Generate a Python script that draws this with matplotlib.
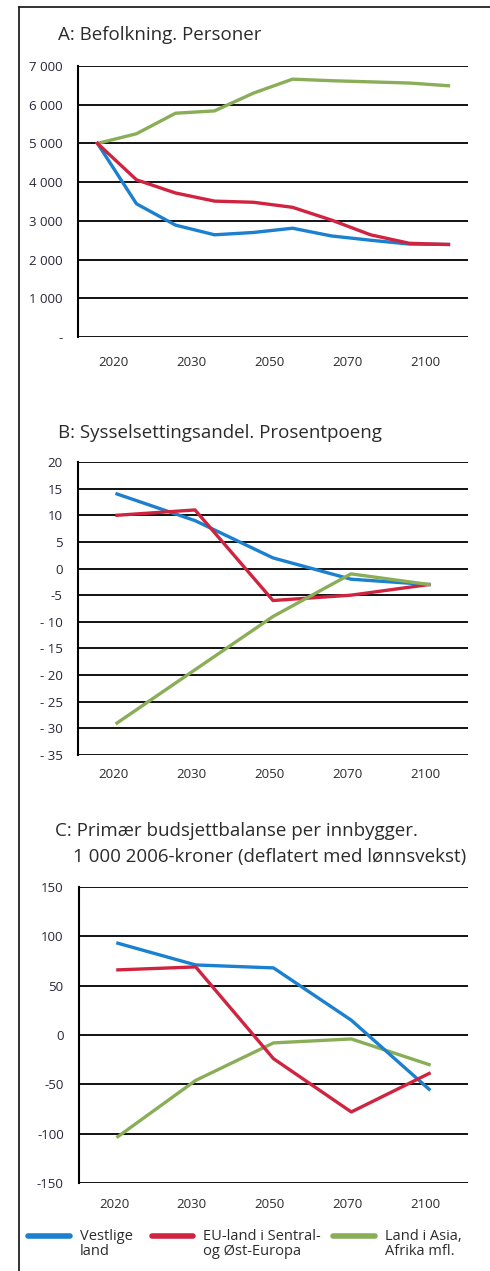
import matplotlib.pyplot as plt
from matplotlib.lines import Line2D

plt.rcParams['font.family'] = ['Open Sans', 'DejaVu Sans']

# Panel A: Befolkning (10 points, every second labelled)
a_vestlige = [5000, 3440, 2890, 2640, 2700, 2810, 2610, 2500, 2400, 2390]
a_eu = [5000, 4060, 3720, 3510, 3480, 3350, 3020, 2640, 2420, 2390]
a_asia = [5000, 5250, 5780, 5840, 6300, 6660, 6620, 6590, 6560, 6490]

# Panel B: Sysselsettingsandel
b_vestlige = [14, 9, 2, -2, -3]
b_eu = [10, 11, -6, -5, -3]
b_asia = [-29, -19, -9, -1, -3]

# Panel C: Primær budsjettbalanse
c_vestlige = [93, 71, 68, 15, -55]
c_eu = [66, 69, -24, -78, -39]
c_asia = [-103, -46, -8, -4, -30]

years = ['2020', '2030', '2050', '2070', '2100']
a_yticks = list(range(0, 7001, 1000))
a_ylabels = ['-', '1 000', '2 000', '3 000', '4 000', '5 000', '6 000', '7 000']
b_yticks = list(range(-35, 21, 5))
b_ylabels = ['- ' + str(-v) if v <= -10 else str(v) for v in b_yticks]
c_yticks = list(range(-150, 151, 50))

blue = '#1a80cf'
red = '#d0233f'
green = '#8aae58'
txt = '#2b2b2b'

W, H = 490, 1271
fig = plt.figure(figsize=(W / 100, H / 100), dpi=100)


def px_axes(left, top, right, bottom):
    return fig.add_axes([left / W, 1 - bottom / H, (right - left) / W, (bottom - top) / H])


def style(ax, yticks, ylabels, ylim, xlim, xt, xpad):
    ax.set_ylim(*ylim)
    ax.set_xlim(*xlim)
    ax.set_yticks(yticks)
    ax.set_yticklabels(ylabels, fontsize=9.5, color='#262638')
    ax.set_xticks(xt)
    ax.set_xticklabels(years, fontsize=9.5, color=txt)
    ax.tick_params(length=0)
    ax.tick_params(axis='y', pad=11)
    ax.tick_params(axis='x', pad=xpad)
    for s in ['top', 'right', 'bottom']:
        ax.spines[s].set_visible(False)
    ax.spines['left'].set_linewidth(1.5)
    for v in yticks:
        ax.axhline(v, color='#111111', lw=1.4, zorder=1)


lw = 2.4

# Panel A
ax = px_axes(78, 66, 468, 337)
xa = list(range(10))
ax.plot(xa, a_asia, color=green, lw=lw, zorder=3)
ax.plot(xa, a_eu, color=red, lw=lw, zorder=3)
ax.plot(xa, a_vestlige, color=blue, lw=lw, zorder=2)
style(ax, a_yticks, a_ylabels, (0, 7000), (-0.5, 9.5), [0.4, 2.4, 4.4, 6.4, 8.4], 14)
fig.text(58 / W, 1 - 35 / H, 'A: Befolkning. Personer', fontsize=13.5, color=txt, va='center')

# Panel B
ax = px_axes(78, 462, 468, 755)
xb = list(range(5))
ax.plot(xb, b_vestlige, color=blue, lw=lw, zorder=2)
ax.plot(xb, b_eu, color=red, lw=lw, zorder=3)
ax.plot(xb, b_asia, color=green, lw=lw, zorder=3)
style(ax, b_yticks, b_ylabels, (-35, 20), (-0.5, 4.5), [-0.05, 0.95, 1.95, 2.95, 3.95], 9)
fig.text(58 / W, 1 - 433 / H, 'B: Sysselsettingsandel. Prosentpoeng', fontsize=13.5, color=txt, va='center')

# Panel C
ax = px_axes(79, 887, 468, 1183)
ax.plot(xb, c_vestlige, color=blue, lw=lw, zorder=3)
ax.plot(xb, c_eu, color=red, lw=lw, zorder=3)
ax.plot(xb, c_asia, color=green, lw=lw, zorder=2)
style(ax, c_yticks, [str(v) for v in c_yticks], (-150, 150), (-0.5, 4.5), [-0.05, 0.95, 1.95, 2.95, 3.95], 10.5)
fig.text(55 / W, 1 - 831 / H, 'C: Primær budsjettbalanse per innbygger.', fontsize=13.5, color=txt, va='center')
fig.text(73 / W, 1 - 857 / H, '1 000 2006-kroner (deflatert med lønnsvekst)', fontsize=13.5, color=txt, va='center')

# Legend
items = [(28, 70, 80, blue, 'Vestlige\nland'),
         (152, 193, 203, red, 'EU-land i Sentral-\nog Øst-Europa'),
         (333, 375, 385, green, 'Land i Asia,\nAfrika mfl.')]
for x0, x1, xt, c, lab in items:
    fig.add_artist(Line2D([x0 / W, x1 / W], [1 - 1236 / H] * 2, color=c, lw=4, solid_capstyle='round'))
    fig.text(xt / W, 1 - 1244 / H, lab, fontsize=10.5, color=txt, va='center', linespacing=1.0)

# Frame
fig.add_artist(Line2D([19 / W, 19 / W], [0, 1 - 7 / H], color='#222222', lw=1.3))
fig.add_artist(Line2D([19 / W, 1], [1 - 7 / H] * 2, color='#222222', lw=1.3))

fig.savefig('out.png', dpi=100)
